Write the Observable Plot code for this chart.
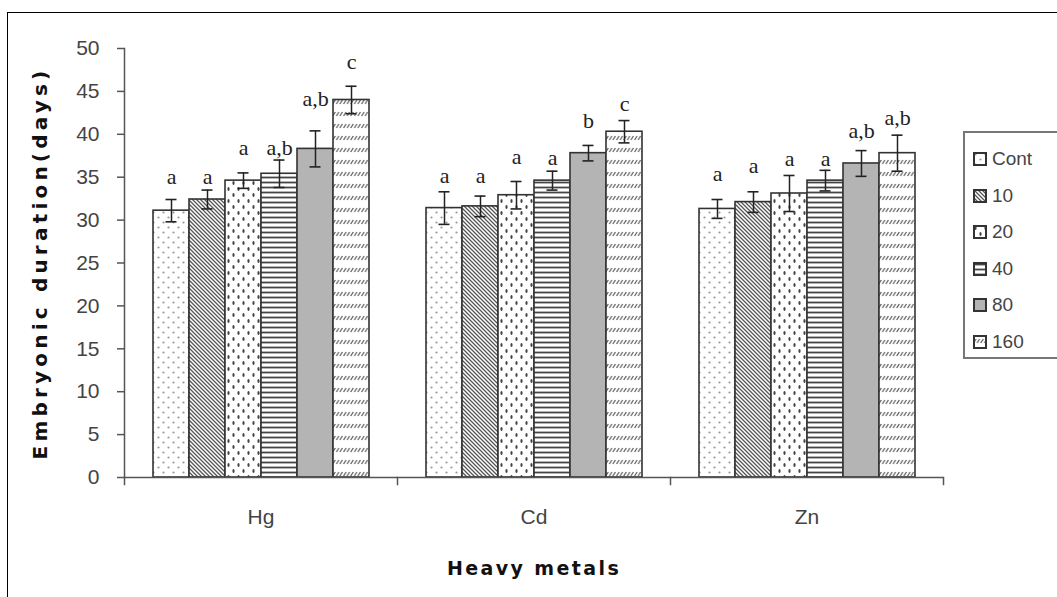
<!DOCTYPE html>
<html>
<head>
<meta charset="utf-8">
<script src="https://cdn.jsdelivr.net/npm/d3@7"></script>
<script src="https://cdn.jsdelivr.net/npm/@observablehq/plot@0.6"></script>
<style>
  html, body { margin: 0; padding: 0; background: #fff; }
  #wrap { position: relative; width: 1057px; height: 597px; overflow: hidden; background: #fff; }
  #border { position: absolute; left: 7px; top: 12px; width: 1100px; height: 700px;
            border-top: 1.5px solid #000; border-left: 1.5px solid #000; }
  #chart { position: absolute; left: 0; top: 0; }
  #legend { position: absolute; left: 963px; top: 131px; width: 130px; height: 228px;
            border: 2px solid #777; box-sizing: border-box; background: #fff;
            font-family: "Liberation Sans", Arial, sans-serif; font-size: 19px; color: #444; }
  #legend .item { position: absolute; left: 8px; display: flex; align-items: center; height: 20px; }
  #legend svg { margin-right: 5px; }
  svg [aria-label="y-axis tick label"] text,
  svg [aria-label="fx-axis tick label"] text { font-size: 21px; }
  svg [aria-label="y-axis label"] text {
    font-family: "DejaVu Sans", Verdana, sans-serif; font-weight: bold; font-size: 20px;
    fill: #111; letter-spacing: 4.2px;
  }
  svg [aria-label="fx-axis label"] text {
    font-family: "DejaVu Sans", Verdana, sans-serif; font-weight: bold; font-size: 19px;
    fill: #111; letter-spacing: 2.4px;
  }
</style>
</head>
<body>
<svg width="0" height="0" style="position:absolute">
  <defs>
    <pattern id="pCont" width="10" height="10" patternUnits="userSpaceOnUse">
      <rect width="10" height="10" fill="#fff"/>
      <circle cx="2.5" cy="2.5" r="1.1" fill="#999"/>
      <circle cx="7.5" cy="7.5" r="1.1" fill="#999"/>
    </pattern>
    <pattern id="p10" width="4" height="4" patternUnits="userSpaceOnUse">
      <rect width="4" height="4" fill="#fff"/>
      <path d="M-1,-1 L5,5 M-1,3 L1,5 M3,-1 L5,1" stroke="#555" stroke-width="1.3"/>
    </pattern>
    <pattern id="p20" width="10" height="12" patternUnits="userSpaceOnUse">
      <rect width="10" height="12" fill="#fff"/>
      <ellipse cx="2.5" cy="3" rx="1.1" ry="2" fill="#444"/>
      <ellipse cx="7.5" cy="9" rx="1.1" ry="2" fill="#444"/>
    </pattern>
    <pattern id="p40" width="5" height="5" patternUnits="userSpaceOnUse">
      <rect width="5" height="5" fill="#fff"/>
      <path d="M0,2.5 L5,2.5" stroke="#444" stroke-width="1.8"/>
    </pattern>
    <pattern id="p160" width="3.6" height="12" patternUnits="userSpaceOnUse">
      <rect width="3.6" height="12" fill="#fff"/>
      <path d="M0.5,8 L3.1,4" stroke="#555" stroke-width="1.2"/>
    </pattern>
  </defs>
</svg>
<div id="wrap">
  <div id="border"></div>
  <div id="chart"></div>
  <div id="legend"></div>
</div>
<script>
// ---- data ----
const metals = ["Hg", "Cd", "Zn"];
const concs = ["Cont", "10", "20", "40", "80", "160"];
const yTicks = [0, 5, 10, 15, 20, 25, 30, 35, 40, 45, 50];

const hgMean = [31.1, 32.4, 34.6, 35.4, 38.3, 44.0];
const hgErr  = [1.3, 1.1, 0.9, 1.6, 2.1, 1.6];
const hgSig  = ["a", "a", "a", "a,b", "a,b", "c"];
const hgSigY = [35.0, 35.0, 38.4, 38.4, 44.1, 48.4];

const cdMean = [31.4, 31.6, 32.9, 34.6, 37.8, 40.3];
const cdErr  = [1.9, 1.2, 1.6, 1.1, 0.9, 1.3];
const cdSig  = ["a", "a", "a", "a", "b", "c"];
const cdSigY = [35.2, 35.2, 37.4, 37.3, 41.6, 43.5];

const znMean = [31.3, 32.1, 33.1, 34.6, 36.6, 37.8];
const znErr  = [1.1, 1.2, 2.1, 1.2, 1.5, 2.1];
const znSig  = ["a", "a", "a", "a", "a,b", "a,b"];
const znSigY = [35.4, 36.3, 37.1, 37.1, 40.4, 41.9];

const fills = ["url(#pCont)", "url(#p10)", "url(#p20)", "url(#p40)", "#b4b4b4", "url(#p160)"];

// ---- table ----
const means = [hgMean, cdMean, znMean];
const errs = [hgErr, cdErr, znErr];
const sigs = [hgSig, cdSig, znSig];
const sigYs = [hgSigY, cdSigY, znSigY];
const rows = [];
metals.forEach((m, i) => concs.forEach((c, j) => rows.push({
  metal: m, conc: c, mean: means[i][j], err: errs[i][j], sig: sigs[i][j], sigY: sigYs[i][j]
})));

const ink = "#333";
const chart = Plot.plot({
  width: 1057,
  height: 597,
  marginLeft: 123,
  marginRight: 114,
  marginTop: 48,
  marginBottom: 120,
  style: {background: "transparent", fontFamily: "'Liberation Sans', Arial, sans-serif", fontSize: "18px", overflow: "visible"},
  fx: {domain: metals, padding: 0, label: null},
  x: {domain: concs, paddingInner: 0, paddingOuter: 0.75, axis: null},
  y: {domain: [0, 50]},
  color: {domain: concs, range: fills},
  marks: [
    Plot.barY(rows, {fx: "metal", x: "conc", y: "mean", fill: "conc", stroke: ink, strokeWidth: 1.6}),
    Plot.ruleX(rows, {fx: "metal", x: "conc", y1: d => d.mean - d.err, y2: d => d.mean + d.err, stroke: "#222", strokeWidth: 1.5}),
    Plot.tickY(rows, {fx: "metal", x: "conc", y: d => d.mean + d.err, insetLeft: 12.5, insetRight: 12.5, stroke: "#222", strokeWidth: 1.6}),
    Plot.tickY(rows, {fx: "metal", x: "conc", y: d => d.mean - d.err, insetLeft: 12.5, insetRight: 12.5, stroke: "#222", strokeWidth: 1.6}),
    Plot.text(rows, {fx: "metal", x: "conc", y: "sigY", text: "sig", fontFamily: "'Liberation Serif', 'Times New Roman', serif", fontSize: 22, fill: "#222"}),
    Plot.ruleY([0], {stroke: "#555", strokeWidth: 1.5}),
    Plot.frame({anchor: "left", facetAnchor: "left", stroke: "#555", strokeWidth: 1.5}),
    Plot.frame({anchor: "left", insetTop: 429, insetBottom: -7, stroke: "#555", strokeWidth: 1.5}),
    Plot.frame({anchor: "right", facetAnchor: "right", insetTop: 429, insetBottom: -7, stroke: "#555", strokeWidth: 1.5}),
    Plot.axisY({ticks: yTicks, tickSize: 7, tickPadding: 18, fontSize: 21, fill: "#444", stroke: "#555", strokeWidth: 1.5,
      label: "Embryonic duration(days)", labelAnchor: "center", labelOffset: 92, labelArrow: "none"}),
    Plot.axisFx({anchor: "bottom", tickSize: 0, tickPadding: 32, fontSize: 21, fill: "#444",
      label: "Heavy metals", labelAnchor: "center", labelOffset: 97, labelArrow: "none"})
  ]
});
document.getElementById("chart").appendChild(chart);

// ---- legend ----
const color = chart.scale("color");
const legend = document.getElementById("legend");
concs.forEach((c, i) => {
  const item = document.createElement("div");
  item.className = "item";
  item.style.top = (16 + i * 36.5) + "px";
  item.innerHTML = `<svg width="14" height="14"><rect x="1" y="1" width="12" height="12" fill="${color.range[i]}" stroke="#333" stroke-width="2"/></svg><span>${c}</span>`;
  legend.appendChild(item);
});
</script>
</body>
</html>
